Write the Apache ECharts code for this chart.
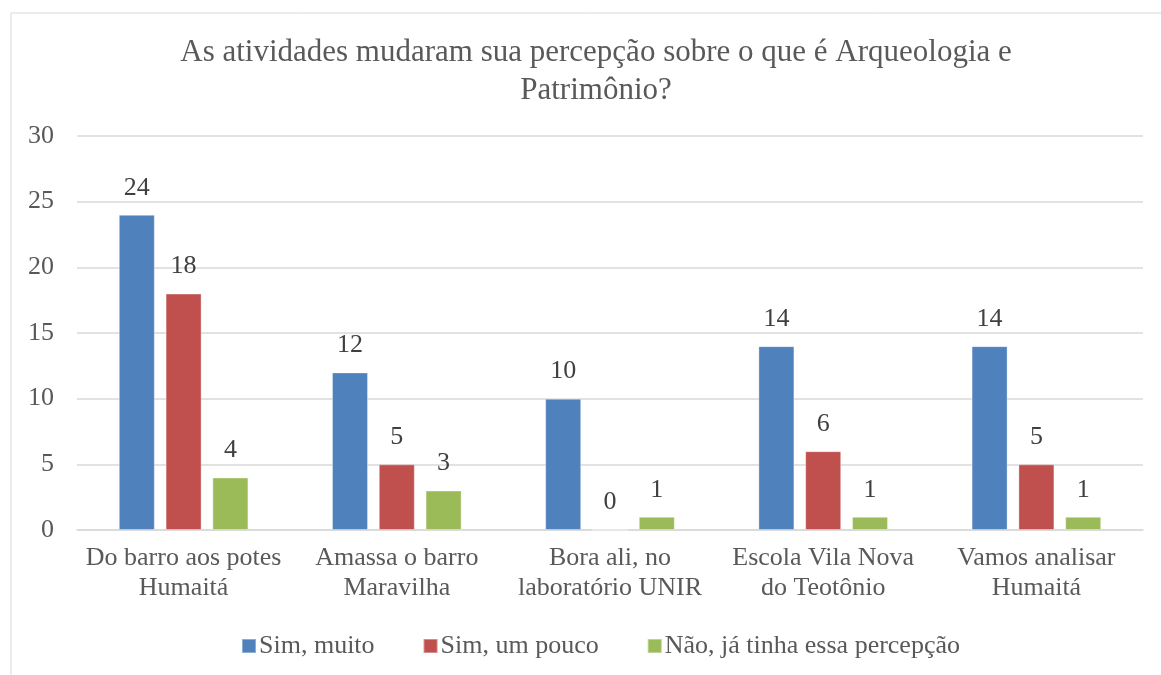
<!DOCTYPE html>
<html><head><meta charset="utf-8">
<script src="https://cdn.jsdelivr.net/npm/echarts@6/dist/echarts.min.js"></script>
<style>html,body{margin:0;padding:0;background:#fff}#c{width:1161px;height:675px}</style>
</head><body><div id="c"></div>
<script>
const categories = ['Do barro aos potes\nHumaitá','Amassa o barro\nMaravilha','Bora ali, no\nlaboratório UNIR','Escola Vila Nova\ndo Teotônio','Vamos analisar\nHumaitá'];
const simMuito = [24,12,10,14,14];
const simUmPouco = [18,5,0,6,5];
const naoJaTinha = [4,3,1,1,1];
const seriesNames = ['Sim, muito','Sim, um pouco','Não, já tinha essa percepção'];
const yTicks = {min:0,max:30,interval:5};
const colors = ['#4f81bd','#c0504d','#9bbb59'];
const FONT = 'Liberation Serif';
const chart = echarts.init(document.getElementById('c'));
const mk = (name, data, i) => ({
  name, type:'bar', data, barWidth:36, barGap:'30%',
  itemStyle:{color:colors[i], borderColor:'rgba(255,255,255,0.35)', borderWidth:1},
  label:{show:true, position:'top', distance:14, color:'#404040', fontFamily:FONT, fontSize:26}
});
chart.setOption({
  animation:false,
  graphic:[{type:'rect', shape:{x:11,y:13,width:1160,height:670}, style:{fill:'none',stroke:'#d9d9d9',lineWidth:1}, silent:true}],
  title:{text:'As atividades mudaram sua percepção sobre o que é Arqueologia e\nPatrimônio?', left:591, top:29, textAlign:'center',
    textStyle:{fontFamily:FONT, fontSize:31, fontWeight:'normal', color:'#595959', lineHeight:38}},
  grid:{left:77, right:18, top:136, bottom:145, containLabel:false},
  legend:{top:628, left:236, itemWidth:14, itemHeight:14, itemGap:48, icon:'rect',
    textStyle:{fontFamily:FONT, fontSize:26, color:'#595959', padding:[0,0,0,-2]}, data:seriesNames},
  xAxis:{type:'category', data:categories,
    axisLine:{lineStyle:{color:'#d9d9d9', width:1.5}}, axisTick:{show:false},
    axisLabel:{fontFamily:FONT, fontSize:26, color:'#595959', lineHeight:30, margin:13, interval:0}},
  yAxis:{type:'value', min:yTicks.min, max:yTicks.max, interval:yTicks.interval,
    axisLine:{show:false}, axisTick:{show:false},
    splitLine:{lineStyle:{color:'#d9d9d9', width:1.5}},
    axisLabel:{fontFamily:FONT, fontSize:26, color:'#595959', margin:23}},
  series:[mk(seriesNames[0], simMuito,0), mk(seriesNames[1], simUmPouco,1), mk(seriesNames[2], naoJaTinha,2)]
});
</script></body></html>
